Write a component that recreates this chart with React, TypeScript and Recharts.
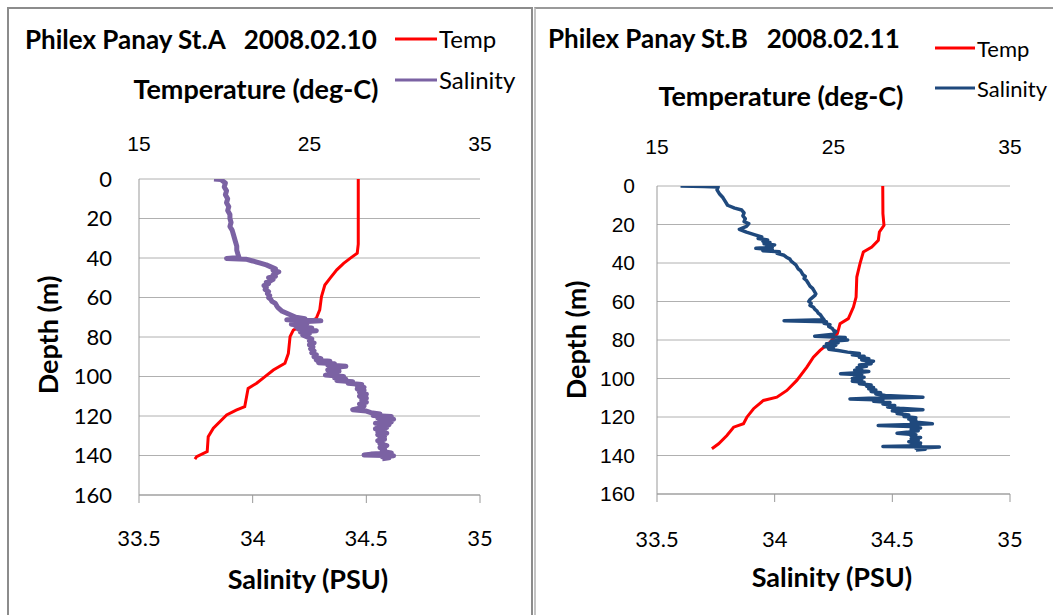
import { LineChart, Line, XAxis, YAxis, CartesianGrid, Legend } from 'recharts';

// depth ticks (m), temperature ticks (deg-C), salinity ticks (PSU)
const DEPTH_TICKS = [0, 20, 40, 60, 80, 100, 120, 140, 160];
const TEMP_TICKS = [15, 25, 35];
const SAL_TICKS = [33.5, 34, 34.5, 35];

// St.A 2008.02.10 — [depth, temperature]
const TEMP_A: [number, number][] = [
  [0, 27.86], [33, 27.86], [37.6, 27.8], [40.2, 27.38], [42.7, 27.0], [46, 26.6],
  [50.3, 26.2], [53.7, 25.9], [59.6, 25.7], [66.3, 25.6], [70.5, 25.4], [73, 24.8],
  [76.5, 24.05], [79.8, 23.86], [88.3, 23.76], [93.3, 23.56], [96.7, 22.88], [100.1, 22.39],
  [103.4, 21.9], [106, 21.4], [115.3, 21.2], [117, 20.7], [119.5, 20.14], [126.2, 19.36],
  [130.5, 19.06], [138, 19.0], [140.6, 18.38], [141.8, 18.28],
];

// St.A — [depth, salinity]
const SAL_A: [number, number][] = [
  [0, 33.83], [0.3, 33.86], [2, 33.88], [4, 33.875], [6, 33.885], [8, 33.88], [10, 33.89],
  [12, 33.885], [14, 33.895], [16, 33.89], [18, 33.9], [20, 33.9], [22, 33.905], [24, 33.9],
  [26, 33.91], [28, 33.915], [30, 33.92], [32, 33.925], [34, 33.93], [36, 33.93], [38, 33.935],
  [39.8, 33.94], [40.2, 33.885], [40.6, 33.97], [41.5, 34.0], [42.5, 34.03], [43.5, 34.06],
  [44.5, 34.08], [45.5, 34.1], [46.3, 34.09], [47, 34.115], [47.8, 34.1], [48.5, 34.09],
  [49.3, 34.1], [50, 34.07], [50.8, 34.09], [51.5, 34.08], [52.3, 34.06], [53, 34.07],
  [54, 34.05], [55, 34.06], [56, 34.055], [57, 34.07], [58, 34.065], [59, 34.075], [60, 34.07],
  [61, 34.08], [62, 34.085], [63, 34.1], [64, 34.105], [65, 34.11], [66, 34.12], [67, 34.13],
  [68, 34.15], [69, 34.17], [70, 34.19], [70.8, 34.23], [71.3, 34.15], [71.8, 34.3], [72.4, 34.2],
  [73, 34.24], [73.6, 34.17], [74.2, 34.22], [74.8, 34.19], [75.4, 34.26], [76, 34.2],
  [76.8, 34.28], [77.5, 34.21], [78.3, 34.25], [79, 34.22], [80, 34.24], [81, 34.26], [82, 34.25],
  [83, 34.27], [84, 34.25], [85, 34.265], [86, 34.255], [87, 34.27], [88, 34.26], [89, 34.28],
  [90, 34.27], [91, 34.3], [91.7, 34.28], [92.3, 34.34], [93, 34.29], [93.6, 34.36], [94.2, 34.33],
  [94.8, 34.41], [95.4, 34.35], [96, 34.38], [96.7, 34.33], [97.3, 34.38], [98, 34.35],
  [98.7, 34.37], [99.3, 34.32], [100, 34.4], [100.7, 34.36], [101.4, 34.41], [102, 34.37],
  [102.7, 34.44], [103.4, 34.42], [104, 34.48], [104.8, 34.46], [105.5, 34.49], [106.3, 34.46],
  [107, 34.49], [108, 34.47], [109, 34.5], [110, 34.47], [111, 34.5], [112, 34.48], [113, 34.5],
  [114, 34.47], [115, 34.49], [116, 34.47], [116.8, 34.44], [117.5, 34.5], [118.3, 34.52],
  [119, 34.56], [119.7, 34.53], [120.3, 34.61], [121, 34.55], [121.7, 34.62], [122.4, 34.56],
  [123, 34.61], [123.7, 34.54], [124.4, 34.6], [125.1, 34.55], [125.8, 34.59], [126.5, 34.54],
  [127.2, 34.58], [128, 34.55], [128.7, 34.59], [129.5, 34.55], [130.3, 34.58], [131, 34.56],
  [131.8, 34.58], [132.5, 34.55], [133.3, 34.57], [134, 34.56], [135, 34.59], [136, 34.56],
  [137, 34.58], [138, 34.57], [138.7, 34.61], [139.3, 34.52], [139.7, 34.49], [140.1, 34.62],
  [140.6, 34.57], [141.2, 34.6], [141.6, 34.57],
];

// St.B 2008.02.11 — [depth, temperature]
const TEMP_B: [number, number][] = [
  [0, 27.79], [14.4, 27.8], [20.4, 27.86], [23.9, 27.6], [28.2, 27.54], [31.7, 27.17],
  [34.3, 26.69], [40.3, 26.5], [47.3, 26.32], [57.7, 26.28], [62.9, 26.13], [68.9, 25.84],
  [71.5, 25.37], [76.7, 25.22], [81.1, 24.81], [85.4, 24.24], [88.9, 23.86], [94.1, 23.49],
  [101, 22.92], [106.2, 22.36], [109.7, 21.79], [111.4, 21.03], [115.7, 20.47], [120.1, 20.09],
  [123.5, 19.9], [125.3, 19.34], [129.6, 18.96], [133.9, 18.49], [136.5, 18.11],
];

// St.B — [depth, salinity]
const SAL_B: [number, number][] = [
  [0, 33.6], [0.2, 33.7], [0.5, 33.76], [2, 33.755], [4, 33.765], [6, 33.78], [8, 33.79],
  [10, 33.8], [11.5, 33.83], [12.5, 33.86], [14, 33.87], [15.5, 33.865], [17, 33.875],
  [18.5, 33.87], [19.5, 33.89], [21, 33.88], [22.5, 33.85], [24, 33.88], [25.5, 33.92],
  [26.5, 33.945], [27.3, 33.93], [28, 33.97], [28.7, 33.95], [29.3, 33.98], [30, 33.955],
  [30.6, 34.0], [31.2, 33.965], [31.8, 33.99], [32.4, 33.92], [33, 33.99], [33.6, 33.95],
  [34.2, 34.02], [35, 34.01], [36, 34.04], [37, 34.05], [38, 34.065], [39, 34.07], [40, 34.08],
  [41, 34.09], [42, 34.095], [43, 34.1], [44, 34.11], [45, 34.115], [46, 34.12], [47, 34.13],
  [48, 34.125], [49, 34.135], [50, 34.14], [51, 34.145], [52, 34.15], [53, 34.16], [54, 34.165],
  [55, 34.17], [56, 34.175], [57, 34.17], [58, 34.16], [59, 34.15], [60, 34.145], [61, 34.155],
  [62, 34.15], [63, 34.165], [64, 34.17], [65, 34.18], [66, 34.185], [67, 34.195], [68, 34.2],
  [69.5, 34.21], [70, 34.04], [70.5, 34.22], [71.3, 34.21], [72, 34.235], [73, 34.23],
  [74, 34.245], [75, 34.25], [75.5, 34.26], [77, 34.25], [78, 34.17], [78.7, 34.3], [79.3, 34.26],
  [80, 34.31], [80.7, 34.24], [81.4, 34.27], [82, 34.22], [82.7, 34.26], [83.4, 34.21],
  [84, 34.25], [84.8, 34.23], [85.5, 34.27], [86.3, 34.31], [87, 34.36], [87.7, 34.33],
  [88.4, 34.38], [89, 34.36], [89.7, 34.4], [90.4, 34.37], [91, 34.42], [91.7, 34.39],
  [92.3, 34.41], [93, 34.36], [93.7, 34.39], [94.4, 34.35], [95, 34.37], [95.7, 34.34],
  [96.4, 34.4], [97, 34.35], [97.5, 34.28], [98, 34.37], [98.7, 34.34], [99.4, 34.38],
  [100, 34.33], [100.7, 34.37], [101.4, 34.33], [102, 34.38], [102.7, 34.36], [103.4, 34.41],
  [104, 34.39], [104.7, 34.42], [105.4, 34.4], [106, 34.43], [106.7, 34.41], [107.4, 34.45],
  [108.1, 34.43], [108.8, 34.47], [109.7, 34.63], [110.2, 34.4], [110.6, 34.32], [111.2, 34.46],
  [111.8, 34.42], [112.5, 34.49], [113.2, 34.46], [114, 34.51], [114.8, 34.48], [115.5, 34.53],
  [116.2, 34.63], [116.8, 34.5], [117.5, 34.54], [118.2, 34.52], [119, 34.57], [119.7, 34.55],
  [120.4, 34.6], [121.1, 34.57], [121.8, 34.6], [122.5, 34.58], [123.5, 34.67], [124, 34.55],
  [124.4, 34.44], [125, 34.58], [125.7, 34.62], [126.4, 34.58], [127.1, 34.61], [127.8, 34.57],
  [128.5, 34.52], [129.2, 34.6], [130, 34.58], [130.7, 34.62], [131.4, 34.58], [132.1, 34.61],
  [132.8, 34.57], [133.5, 34.62], [134.2, 34.58], [134.9, 34.62], [135.3, 34.46], [135.6, 34.7],
  [136.2, 34.6], [136.8, 34.64], [137.2, 34.6],
];

const CALIBRI = 'Lato, "Open Sans", sans-serif';
const ARIAL = '"Liberation Sans", Arial, sans-serif';
const RED = '#ff0000';
const GRID = '#b0b0b0';

const toTemp = (rows: [number, number][]) => rows.map(([d, t]) => ({ d, t }));
const toSal = (rows: [number, number][]) => rows.map(([d, s]) => ({ d, s }));

interface PanelProps {
  left: number;
  width: number;
  title: string;
  temp: [number, number][];
  sal: [number, number][];
  salColor: string;
  salWidth: number;
  plot: { l: number; r: number; t: number; b: number };
  yTickFont: string;
  yTickSize: number;
  yTickGap: number;
  topTickGap: number;
  bottomTickGap: number;
  titleX: number;
  titleY: number;
  tempLabel: { x: number; y: number };
  salLabel: { x: number; y: number };
  depthLabel: { x: number; y: number };
  legend: { x: number; y: number; row: number; swatch: number; font: number };
}

function Panel(p: PanelProps) {
  const H = 615;
  const legendContent = () => (
    <div style={{ fontFamily: CALIBRI, fontSize: p.legend.font, color: '#000' }}>
      {[
        { name: 'Temp', color: RED },
        { name: 'Salinity', color: p.salColor },
      ].map((e) => (
        <div key={e.name} style={{ display: 'flex', alignItems: 'center', height: p.legend.row }}>
          <svg width={p.legend.swatch} height={6} style={{ marginRight: 2 }}>
            <line x1={0} x2={p.legend.swatch} y1={3} y2={3} stroke={e.color} strokeWidth={3} />
          </svg>
          <span>{e.name}</span>
        </div>
      ))}
    </div>
  );

  return (
    <div style={{ position: 'absolute', left: p.left, top: 0, width: p.width, height: H }}>
      <svg width={p.width} height={60} style={{ position: 'absolute', left: 0, top: 0 }}>
        <text x={p.titleX} y={p.titleY} fontFamily={CALIBRI} fontWeight={700} fontSize={26} fill="#000" style={{ whiteSpace: 'pre' }}>
          {p.title}
        </text>
      </svg>
      <LineChart
        width={p.width}
        height={H}
        layout="vertical"
        margin={{ top: 0, right: p.width - p.plot.r, bottom: 0, left: 0 }}
        style={{ position: 'absolute', left: 0, top: 0 }}
      >
        <CartesianGrid horizontal vertical={false} stroke={GRID} xAxisId="sal" />
        <XAxis
          xAxisId="temp"
          orientation="top"
          type="number"
          domain={[15, 35]}
          ticks={TEMP_TICKS}
          allowDataOverflow
          height={p.plot.t}
          axisLine={false}
          tickLine={false}
          tickSize={0}
          tickMargin={p.topTickGap}
          tick={{ fontFamily: ARIAL, fontSize: 21, fill: '#000' }}
          label={() => (
            <text x={p.tempLabel.x} y={p.tempLabel.y} textAnchor="middle" fontFamily={CALIBRI} fontWeight={700} fontSize={27} fill="#000">
              Temperature (deg-C)
            </text>
          )}
        />
        <XAxis
          xAxisId="sal"
          orientation="bottom"
          type="number"
          domain={[33.5, 35]}
          ticks={SAL_TICKS}
          allowDataOverflow
          height={H - p.plot.b}
          axisLine={{ stroke: '#999' }}
          tickLine={{ stroke: '#999' }}
          tickSize={8}
          tickMargin={p.bottomTickGap}
          tick={{ fontFamily: CALIBRI, fontSize: 22, fill: '#000' }}
          label={() => (
            <text x={p.salLabel.x} y={p.salLabel.y} textAnchor="middle" fontFamily={CALIBRI} fontWeight={700} fontSize={27} fill="#000">
              Salinity (PSU)
            </text>
          )}
        />
        <YAxis
          type="number"
          dataKey="d"
          domain={[0, 160]}
          ticks={DEPTH_TICKS}
          allowDataOverflow
          width={p.plot.l}
          axisLine={{ stroke: '#999' }}
          tickLine={false}
          tickSize={0}
          tickMargin={p.yTickGap}
          tick={{ fontFamily: p.yTickFont, fontSize: p.yTickSize, fill: '#000' }}
          label={() => (
            <text
              x={p.depthLabel.x}
              y={p.depthLabel.y}
              textAnchor="middle"
              dominantBaseline="central"
              transform={`rotate(-90 ${p.depthLabel.x} ${p.depthLabel.y})`}
              fontFamily={CALIBRI}
              fontWeight={700}
              fontSize={27}
              fill="#000"
            >
              Depth (m)
            </text>
          )}
        />
        <Legend
          layout="vertical"
          align="center"
          verticalAlign="middle"
          content={legendContent}
          wrapperStyle={{ left: p.legend.x, top: p.legend.y, width: 'auto', height: 'auto' }}
        />
        <Line
          name="Temp"
          data={toTemp(p.temp)}
          dataKey="t"
          xAxisId="temp"
          stroke={RED}
          strokeWidth={3}
          dot={false}
          activeDot={false}
          isAnimationActive={false}
        />
        <Line
          name="Salinity"
          data={toSal(p.sal)}
          dataKey="s"
          xAxisId="sal"
          stroke={p.salColor}
          strokeWidth={p.salWidth}
          strokeLinejoin="round"
          dot={false}
          activeDot={false}
          isAnimationActive={false}
        />
      </LineChart>
    </div>
  );
}

export default function App() {
  return (
    <div style={{ position: 'fixed', left: 0, top: 0, width: 1053, height: 615, background: '#fff', overflow: 'hidden' }}>
      {/* chart frames */}
      <div style={{ position: 'absolute', left: 7, top: 7, width: 526, height: 700, border: '2px solid #8c8c8c', boxSizing: 'border-box' }} />
      <div style={{ position: 'absolute', left: 534, top: 7, width: 600, height: 700, borderLeft: '2px solid #c4c4c4', borderTop: '2px solid #9a9a9a', boxSizing: 'border-box' }} />
      <Panel
        left={0}
        width={530}
        title={'Philex Panay St.A   2008.02.10'}
        temp={TEMP_A}
        sal={SAL_A}
        salColor="#7b62a3"
        salWidth={5}
        plot={{ l: 139, r: 480, t: 179, b: 495 }}
        yTickFont={CALIBRI}
        yTickSize={22}
        yTickGap={27}
        topTickGap={28}
        bottomTickGap={27}
        titleX={25}
        titleY={49}
        tempLabel={{ x: 256, y: 99 }}
        salLabel={{ x: 308, y: 589 }}
        depthLabel={{ x: 47, y: 335 }}
        legend={{ x: 395, y: 18, row: 41, swatch: 42, font: 24 }}
      />
      <Panel
        left={530}
        width={523}
        title={'Philex Panay St.B   2008.02.11'}
        temp={TEMP_B}
        sal={SAL_B}
        salColor="#1f497d"
        salWidth={3.5}
        plot={{ l: 127, r: 480, t: 186, b: 494 }}
        yTickFont={ARIAL}
        yTickSize={21}
        yTickGap={22}
        topTickGap={32}
        bottomTickGap={29}
        titleX={18}
        titleY={48}
        tempLabel={{ x: 251, y: 106 }}
        salLabel={{ x: 302, y: 587 }}
        depthLabel={{ x: 45, y: 340 }}
        legend={{ x: 405, y: 28, row: 40, swatch: 40, font: 22 }}
      />
    </div>
  );
}
